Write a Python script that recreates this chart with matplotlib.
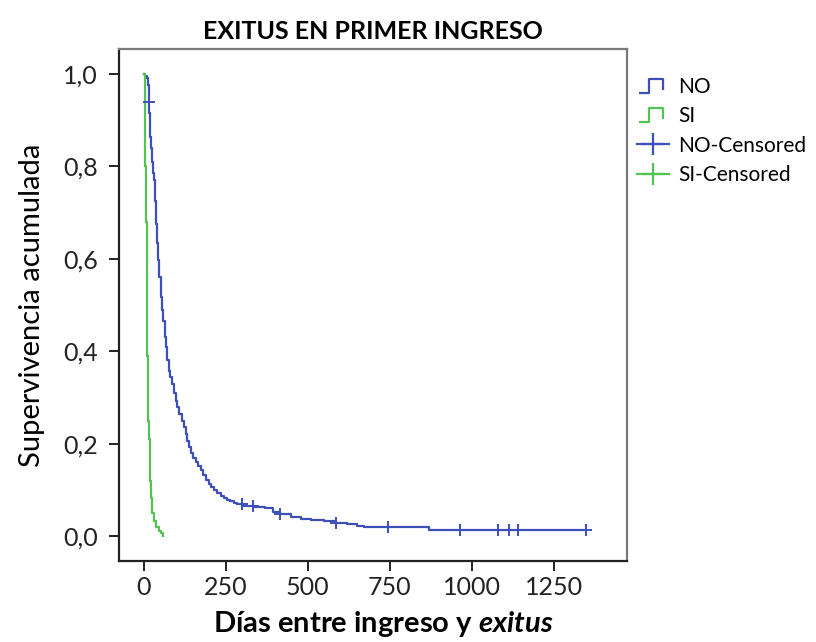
import numpy as np
import matplotlib
matplotlib.use("Agg")
import matplotlib.pyplot as plt
from matplotlib.lines import Line2D
from matplotlib.path import Path
from matplotlib.ticker import FuncFormatter

plt.rcParams['font.family'] = ['Lato', 'DejaVu Sans']
plt.rcParams['mathtext.fontset'] = 'custom'
plt.rcParams['mathtext.it'] = 'Lato:italic:bold'
plt.rcParams['mathtext.rm'] = 'Lato:bold'

# Kaplan-Meier estimates, group NO (days, cumulative survival)
no_days = [0, 4, 8, 12, 15, 17, 20, 23, 26, 29, 31, 34, 36, 38, 41, 44, 47,
           51, 55, 59, 64, 68, 72, 76, 81, 86, 92, 97, 102, 108, 117, 122,
           127, 132, 137, 143, 150, 160, 166, 173, 181, 190, 198, 205, 214,
           224, 235, 245, 255, 264, 275, 285, 300, 340, 370, 395, 415, 450,
           480, 510, 550, 585, 620, 650, 671, 800, 870, 1349]
no_surv = [1.0, 0.995, 0.99, 0.975, 0.94, 0.915, 0.864, 0.84, 0.81, 0.785,
           0.77, 0.725, 0.69, 0.676, 0.635, 0.597, 0.56, 0.517, 0.49, 0.465,
           0.43, 0.41, 0.38, 0.358, 0.345, 0.33, 0.31, 0.293, 0.28, 0.265,
           0.249, 0.235, 0.22, 0.205, 0.192, 0.18, 0.17, 0.16, 0.152, 0.143,
           0.132, 0.122, 0.113, 0.106, 0.099, 0.093, 0.087, 0.082, 0.078,
           0.075, 0.072, 0.069, 0.066, 0.063, 0.060, 0.052, 0.047, 0.042,
           0.037, 0.034, 0.032, 0.029, 0.027, 0.023, 0.020, 0.020, 0.014,
           0.014]
no_censored = [15, 298, 333, 415, 585, 744, 963, 1079, 1113, 1141, 1349]

# Group SI
si_days = [0, 2, 3, 5, 8, 10, 13, 15, 18, 20, 22, 26, 31, 38, 46, 52, 58]
si_surv = [1.0, 0.90, 0.80, 0.68, 0.51, 0.39, 0.25, 0.21, 0.17, 0.12, 0.083,
           0.05, 0.033, 0.02, 0.011, 0.006, 0.0]

blue = '#3d4fb8'
green = '#52c452'

fig = plt.figure(figsize=(8.16, 6.42), dpi=100)
ax = fig.add_axes([0.1458, 0.126, 0.623, 0.798])

ax.plot(no_days, no_surv, drawstyle='steps-post', color=blue, lw=1.6)
ax.plot(si_days, si_surv, drawstyle='steps-post', color=green, lw=1.6)

# censored marks sit on the step curve
idx = np.searchsorted(no_days, no_censored, side='right') - 1
cens_y = np.array(no_surv)[idx]
ax.plot(no_censored, cens_y, linestyle='none', marker='+', color=blue,
        markersize=9, markeredgewidth=1.4)

ax.set_xlim(-76, 1475)
ax.set_ylim(-0.054, 1.054)
ax.set_xticks([0, 250, 500, 750, 1000, 1250])
ax.set_yticks([0, 0.2, 0.4, 0.6, 0.8, 1.0])
ax.yaxis.set_major_formatter(FuncFormatter(lambda v, p: f'{v:.1f}'.replace('.', ',')))
ax.tick_params(direction='out', length=7, width=1.4, labelsize=18, colors='#222222')
ax.tick_params(axis='y', pad=8)
ax.tick_params(axis='x', pad=4)

for side in ['left', 'bottom']:
    ax.spines[side].set_color('#222222')
    ax.spines[side].set_linewidth(1.6)
for side in ['top', 'right']:
    ax.spines[side].set_color('#7a7a7a')
    ax.spines[side].set_linewidth(1.6)

ax.set_title('EXITUS EN PRIMER INGRESO', fontsize=18, fontweight='bold', pad=7)
ax.set_ylabel('Supervivencia acumulada', fontsize=21, labelpad=13)
ax.set_xlabel(r'Días entre ingreso y $\mathit{exitus}$', fontsize=21,
              fontweight='bold')
ax.xaxis.set_label_coords(0.52, -0.094)

# step-shaped legend icons
step = Path([(-1.0, -0.5), (-0.3, -0.5), (-0.3, 0.5), (0.7, 0.5), (0.7, -0.3)],
            [Path.MOVETO, Path.LINETO, Path.LINETO, Path.LINETO, Path.LINETO])
handles = [
    Line2D([], [], linestyle='none', marker=step, markersize=20,
           markerfacecolor='none', markeredgecolor=blue, markeredgewidth=1.6),
    Line2D([], [], linestyle='none', marker=step, markersize=20,
           markerfacecolor='none', markeredgecolor=green, markeredgewidth=1.6),
    Line2D([], [], color=blue, lw=1.6, marker='+', markersize=16,
           markeredgewidth=1.6),
    Line2D([], [], color=green, lw=1.6, marker='+', markersize=16,
           markeredgewidth=1.6),
]
labels = ['NO', 'SI', 'NO-Censored', 'SI-Censored']
fig.legend(handles, labels, loc='upper left', bbox_to_anchor=(0.771, 0.893),
           frameon=False, fontsize=15, handlelength=1.5, handletextpad=0.45,
           labelspacing=0.45, borderaxespad=0)

fig.savefig('out.png', dpi=100)
